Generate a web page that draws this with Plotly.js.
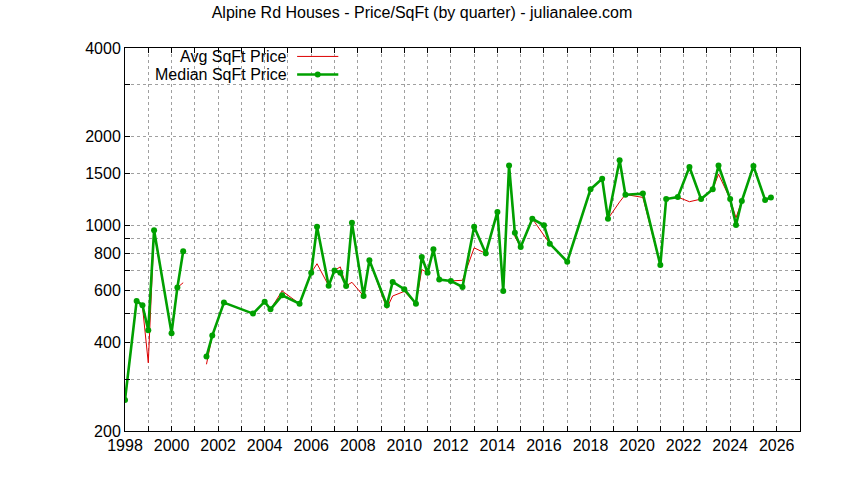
<!DOCTYPE html>
<html>
<head>
<meta charset="utf-8">
<script src="https://cdn.plot.ly/plotly-3.0.1.min.js"></script>
<style>
    body { margin: 0; background: #fff; }
    #canvas { width: 844px; height: 480px; }
</style>
</head>
<body>
<div id="canvas"></div>
<script>
// quarter (decimal year); null = break in the line
const quarters = [
    1998.0, 1998.5, 1998.75, 1999.0, 1999.25, 2000.0, 2000.25, 2000.5, 2001.0,
    2001.5, 2001.75, 2002.25, 2003.5, 2004.0, 2004.25, 2004.75, 2005.5,
    2006.0, 2006.25, 2006.75, 2007.0, 2007.25, 2007.5, 2007.75, 2008.25, 2008.5,
    2009.25, 2009.5, 2010.0, 2010.5, 2010.75, 2011.0, 2011.25, 2011.5,
    2012.0, 2012.5, 2013.0, 2013.5, 2014.0, 2014.25, 2014.5, 2014.75,
    2015.0, 2015.5, 2016.0, 2016.25, 2017.0, 2018.0, 2018.5, 2018.75,
    2019.25, 2019.5, 2020.25, 2021.0, 2021.25, 2021.75, 2022.25, 2022.75,
    2023.25, 2023.5, 2024.0, 2024.25, 2024.5, 2025.0, 2025.5, 2025.75
];

const medianPrice = [
    255, 553, 535, 440, 962, 430, 614, 816, null,
    358, 422, 546, 501, 550, 518, 578, 541,
    690, 988, 623, 702, 690, 622, 1020, 575, 760,
    535, 642, 606, 541, 780, 690, 828, 654,
    647, 617, 988, 802, 1110, 598, 1596, 942,
    843, 1052, 1000, 866, 752, 1325, 1438, 1052,
    1662, 1270, 1281, 732, 1227, 1246, 1577, 1227,
    1325, 1596, 1227, 1002, 1209, 1588, 1218, 1243
];

const avgPrice = [
    255, 553, 530, 341, 950, 430, 614, 638, null,
    337, 422, 546, 501, 550, 518, 598, 541,
    690, 740, 623, 702, 722, 622, 640, 575, 760,
    522, 575, 596, 541, 707, 690, 828, 654,
    647, 650, 838, 802, 1110, 598, 1596, 915,
    843, 1052, 930, 866, 752, 1325, 1438, 1052,
    1200, 1272, 1243, 732, 1227, 1246, 1202, 1227,
    1325, 1491, 1227, 1060, 1209, 1588, 1218, 1243
];

const yTickVals = [200, 300, 400, 500, 600, 700, 800, 900, 1000, 1500, 2000, 3000, 4000];
const yTickText = ["200", "", "400", "", "600", "", "800", "", "1000", "1500", "2000", "", "4000"];

const xYears = [];
for (let yr = 1998; yr <= 2027; yr++) xYears.push(yr);
const xTickText = xYears.map((yr) => (yr % 2 === 0 && yr <= 2026 ? String(yr) : ""));

const legendNames = ["Avg SqFt Price", "Median SqFt Price"];

const RED = "#dd0000";
const GREEN = "#00a000";
const FONT = "Liberation Sans, Arial, sans-serif";
const FSIZE = 16;

// legend rows (paper y)
const ROW1 = 0.978;
const ROW2 = 0.931;

var getPlotData = () => [
    {
        x: quarters, y: avgPrice, mode: "lines", name: legendNames[0],
        line: { color: RED, width: 1 }, connectgaps: false, showlegend: false,
    },
    {
        x: quarters, y: medianPrice, mode: "lines+markers", name: legendNames[1],
        line: { color: GREEN, width: 2.6 }, marker: { color: GREEN, size: 6, symbol: "circle" },
        connectgaps: false, showlegend: false,
    },
];

var axisCommon = {
    showline: true, linecolor: "#000", linewidth: 1, mirror: "ticks",
    ticks: "inside", ticklen: 5, tickcolor: "#000",
    showgrid: true, gridcolor: "#a0a0a0", gridwidth: 1, griddash: "dot",
    zeroline: false, tickfont: { family: FONT, size: FSIZE, color: "#000" },
};

// legend is drawn gnuplot style: text right-aligned, sample to the right
var legendAnnotations = () => [
    { text: legendNames[0], y: ROW1 },
    { text: legendNames[1], y: ROW2 },
].map((a) => ({
    xref: "paper", yref: "paper", x: 0.2415, y: a.y, text: a.text,
    xanchor: "right", yanchor: "middle", showarrow: false, borderpad: 0,
    font: { family: FONT, size: FSIZE, color: "#000" },
}));

var legendShapes = () => [
    { type: "line", xref: "paper", yref: "paper", x0: 0.255, x1: 0.316, y0: ROW1, y1: ROW1, line: { color: RED, width: 1 } },
    { type: "line", xref: "paper", yref: "paper", x0: 0.255, x1: 0.316, y0: ROW2, y1: ROW2, line: { color: GREEN, width: 2.6 } },
    { type: "circle", xref: "paper", yref: "paper", xsizemode: "pixel", ysizemode: "pixel",
      xanchor: 0.2855, yanchor: ROW2, x0: -3, x1: 3, y0: -3, y1: 3,
      fillcolor: GREEN, line: { color: GREEN, width: 0 } },
];

var getPlotLayout = () => ({
    width: 844, height: 480,
    margin: { l: 125, r: 44, t: 48, b: 49 },
    paper_bgcolor: "#fff", plot_bgcolor: "#fff",
    font: { family: FONT, size: FSIZE, color: "#000" },
    title: {
        text: "Alpine Rd Houses - Price/SqFt (by quarter) - julianalee.com",
        xref: "container", x: 0.5, xanchor: "center",
        yref: "container", y: 0.975, yanchor: "middle",
        font: { family: FONT, size: FSIZE, color: "#000" },
    },
    xaxis: Object.assign({}, axisCommon, {
        range: [1998, 2027], tickmode: "array", tickvals: xYears, ticktext: xTickText,
    }),
    yaxis: Object.assign({}, axisCommon, {
        type: "log", range: [Math.log10(200), Math.log10(4000)],
        tickmode: "array", tickvals: yTickVals, ticktext: yTickText,
    }),
    showlegend: false,
    annotations: legendAnnotations(),
    shapes: legendShapes(),
});

Plotly.newPlot("canvas", getPlotData(), getPlotLayout(), { staticPlot: true });
</script>
</body>
</html>
